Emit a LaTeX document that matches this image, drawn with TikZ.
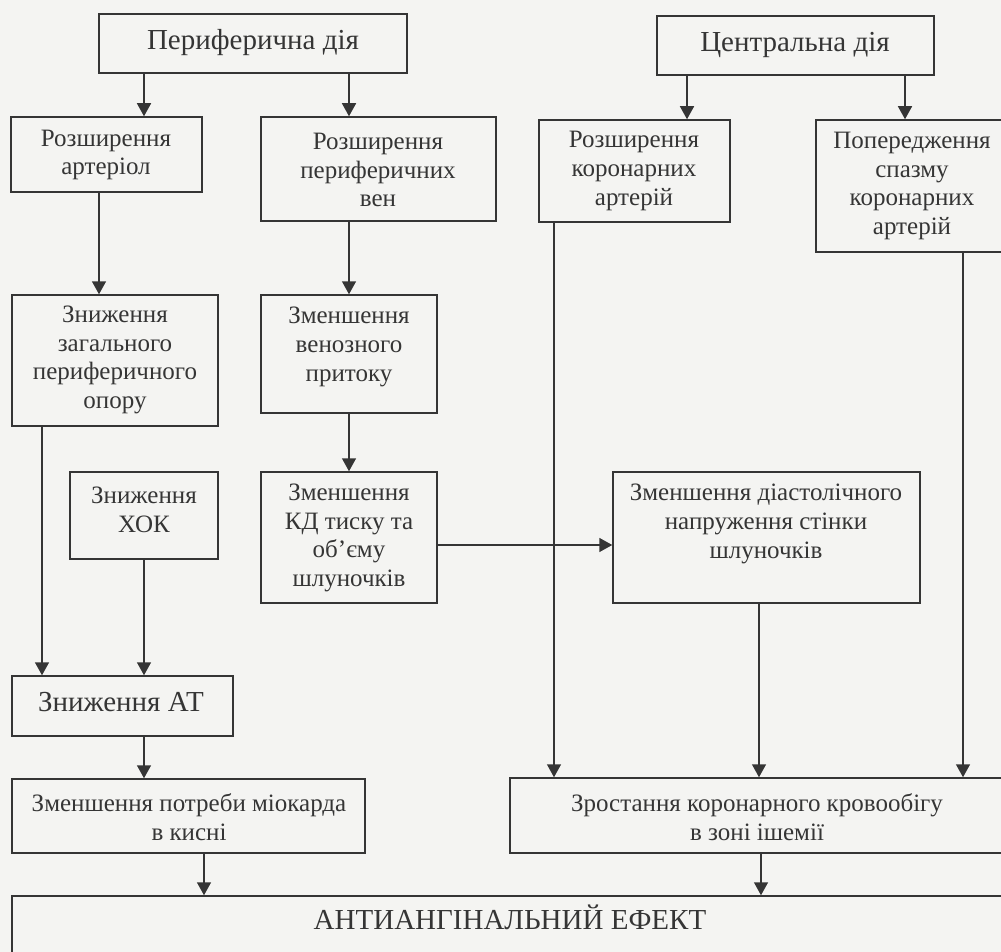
\documentclass[tikz,border=0pt]{standalone}
\usepackage{fontspec}
\setmainfont{Liberation Serif}
\usetikzlibrary{arrows.meta,calc}
\definecolor{ink}{HTML}{353535}
\definecolor{paper}{HTML}{F4F4F2}
\tikzset{
  box/.style={draw=ink, line width=1.5pt, rectangle, inner sep=0pt},
  txt/.style={text=ink, align=center, inner sep=0pt, font=\fontsize{25}{28.8}\selectfont},
  bigtxt/.style={txt, font=\fontsize{29}{32}\selectfont},
  hugetxt/.style={txt, font=\fontsize{29}{33}\selectfont},
  conn/.style={draw=ink, line width=1.5pt},
  arr/.style={conn, -{Triangle[length=13pt,width=14pt]}},
}
\newcommand{\bx}[5]{% name, x1, y1, x2, y2
  \node[box, minimum width={(#4-#2)*1pt}, minimum height={(#5-#3)*1pt}] (#1) at ({(#2+#4)/2},{(#3+#5)/2}) {};}
\begin{document}
\begin{tikzpicture}[x=1pt,y=-1pt]
\fill[paper] (0,0) rectangle (1001,952);
\useasboundingbox (0,0) rectangle (1001,952);
\begin{scope}
\clip (0,0) rectangle (1001,952);
% boxes
\bx{b1}{99}{14}{407}{73}
\bx{b2}{11}{117}{202}{192}
\bx{b3}{261}{117}{496}{221}
\bx{b4}{657}{16}{934}{75}
\bx{b5}{539}{120}{730}{222}
\bx{b6}{816}{120}{1008}{252}
\bx{b7}{12}{295}{218}{426}
\bx{b8}{261}{295}{437}{413}
\bx{b9}{70}{472}{218}{559}
\bx{b10}{261}{472}{437}{603}
\bx{b11}{613}{472}{920}{603}
\bx{b12}{12}{676}{233}{736}
\bx{b13}{12}{779}{365}{853}
\bx{b15}{510}{778}{1004}{853}
\bx{b14}{12}{896}{1010}{1000}
% texts
\node[bigtxt] (t1) at (253,43) {Периферична дія};
\node[txt] (t2) at (106,155) {Розширення\\артеріол};
\node[txt] (t3) at (378,170) {Розширення\\периферичних\\вен};
\node[bigtxt] (t4) at (795,45) {Центральна дія};
\node[txt] (t5) at (634,171) {Розширення\\коронарних\\артерій};
\node[txt] (t6) at (912,186) {Попередження\\спазму\\коронарних\\артерій};
\node[txt] (t7) at (115,360) {Зниження\\загального\\периферичного\\опору};
\node[txt] (t8) at (349,347) {Зменшення\\венозного\\притоку};
\node[txt] (t9) at (144,510) {Зниження\\ХОК};
\node[txt] (t10) at (349,538) {Зменшення\\КД тиску та\\об’єму\\шлуночків};
\node[txt] (t11) at (766,524) {Зменшення діастолічного\\напруження стінки\\шлуночків};
\node[hugetxt] (t12) at (121,702) {Зниження АТ};
\node[txt] (t13) at (189,817) {Зменшення потреби міокарда\\в кисні};
\node[txt] (t15) at (757,817) {Зростання коронарного кровообігу\\в зоні ішемії};
\node[hugetxt] (t14) at (510,917) {АНТИАНГІНАЛЬНИЙ ЕФЕКТ};
% connectors
\draw[arr] (144,0 |- b1.south) -- (144,0 |- b2.north);
\draw[arr] (349,0 |- b1.south) -- (349,0 |- b3.north);
\draw[arr] (687,0 |- b4.south) -- (687,0 |- b5.north);
\draw[arr] (905,0 |- b4.south) -- (905,0 |- b6.north);
\draw[arr] (99,0 |- b2.south) -- (99,0 |- b7.north);
\draw[arr] (349,0 |- b3.south) -- (349,0 |- b8.north);
\draw[arr] (349,0 |- b8.south) -- (349,0 |- b10.north);
\draw[arr] (42,0 |- b7.south) -- (42,0 |- b12.north);
\draw[arr] (144,0 |- b9.south) -- (144,0 |- b12.north);
\draw[arr] (144,0 |- b12.south) -- (144,0 |- b13.north);
\draw[arr] (204,0 |- b13.south) -- (204,0 |- b14.north);
\draw[arr] (b10.east |- 0,545) -- (b11.west |- 0,545);
\draw[arr] (554,0 |- b5.south) -- (554,0 |- b15.north);
\draw[arr] (759,0 |- b11.south) -- (759,0 |- b15.north);
\draw[arr] (963,0 |- b6.south) -- (963,0 |- b15.north);
\draw[arr] (761,0 |- b15.south) -- (761,0 |- b14.north);
\end{scope}
\end{tikzpicture}
\end{document}
